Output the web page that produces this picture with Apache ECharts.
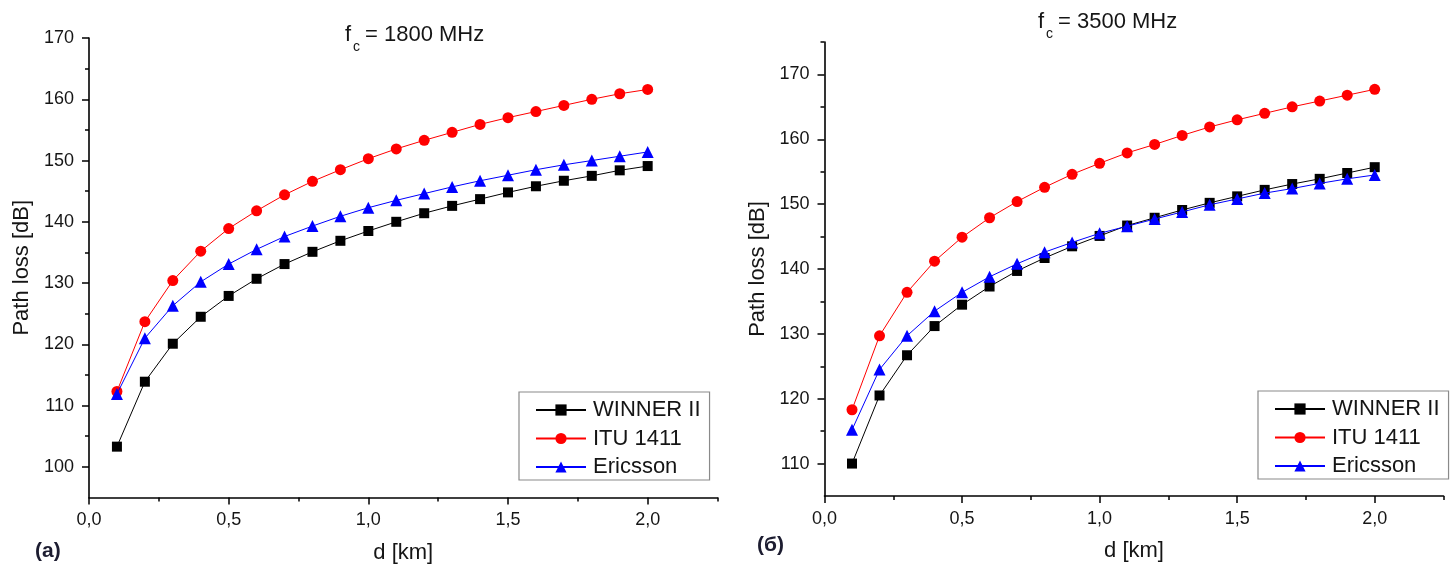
<!DOCTYPE html>
<html>
<head>
<meta charset="utf-8">
<script src="https://cdn.jsdelivr.net/npm/echarts@6/dist/echarts.min.js"></script>
<style>
  html, body { margin: 0; padding: 0; background: #fff; }
  #chart { width: 1456px; height: 569px; }
</style>
</head>
<body>
<div id="chart"></div>
<script>
// Distance from the base station, km
const distances = [0.1, 0.2, 0.3, 0.4, 0.5, 0.6, 0.7, 0.8, 0.9, 1.0,
                   1.1, 1.2, 1.3, 1.4, 1.5, 1.6, 1.7, 1.8, 1.9, 2.0];

const seriesNames = ['WINNER II', 'ITU 1411', 'Ericsson'];

// Path loss at fc = 1800 MHz, dB
const winner1800   = [103.3, 113.9, 120.1, 124.5, 127.9, 130.7, 133.1, 135.1, 136.9, 138.5,
                      140.0, 141.4, 142.6, 143.7, 144.8, 145.8, 146.7, 147.5, 148.4, 149.1];
const itu1800      = [112.3, 123.7, 130.4, 135.2, 138.9, 141.8, 144.4, 146.6, 148.5, 150.3,
                      151.9, 153.3, 154.6, 155.9, 157.0, 158.0, 159.0, 160.0, 160.9, 161.6];
const ericsson1800 = [111.9, 121.0, 126.3, 130.2, 133.1, 135.5, 137.6, 139.3, 140.9, 142.3,
                      143.5, 144.6, 145.7, 146.7, 147.6, 148.5, 149.3, 150.0, 150.7, 151.4];

// Path loss at fc = 3500 MHz, dB
const winner3500   = [110.0, 120.5, 126.7, 131.2, 134.5, 137.3, 139.7, 141.7, 143.5, 145.1,
                      146.7, 147.9, 149.1, 150.2, 151.2, 152.2, 153.1, 153.9, 154.8, 155.7];
const itu3500      = [118.3, 129.7, 136.4, 141.2, 144.9, 147.9, 150.4, 152.6, 154.6, 156.3,
                      157.9, 159.2, 160.6, 161.9, 163.0, 164.0, 165.0, 165.9, 166.8, 167.7];
const ericsson3500 = [115.2, 124.5, 129.7, 133.5, 136.4, 138.8, 140.8, 142.6, 144.1, 145.5,
                      146.6, 147.7, 148.8, 149.9, 150.8, 151.7, 152.4, 153.2, 153.9, 154.5];

// Axis ticks
const xMajorTicks = [0, 0.5, 1.0, 1.5, 2.0];
const xMinorTicks = [0.25, 0.75, 1.25, 1.75, 2.25];
const yMajorTicks1800 = [100, 110, 120, 130, 140, 150, 160, 170];
const yMinorTicks1800 = [105, 115, 125, 135, 145, 155, 165];
const yMajorTicks3500 = [110, 120, 130, 140, 150, 160, 170];
const yMinorTicks3500 = [115, 125, 135, 145, 155, 165, 175];

const FONT = '"Liberation Sans", Arial, sans-serif';
const INK = '#151515';

const colors = ['#000000', '#ff0000', '#0000ff'];
const symbols = ['rect', 'circle', 'triangle'];
const symbolSizes = [10, 11, 12];

function pairs(values) {
  return distances.map((d, i) => [d, values[i]]);
}

function xAxes(gridIndex, min, max) {
  return [
    {
      type: 'value', gridIndex, min, max, position: 'bottom',
      name: 'd [km]', nameLocation: 'middle', nameGap: 44,
      nameTextStyle: { fontFamily: FONT, fontSize: 22, color: INK },
      axisLine: { show: true, onZero: false, lineStyle: { color: '#000', width: 1.6 } },
      axisTick: { show: true, length: 7, lineStyle: { color: '#000', width: 1.5 }, customValues: xMajorTicks },
      axisLabel: {
        show: true, margin: 14, fontFamily: FONT, fontSize: 18, color: INK,
        customValues: xMajorTicks,
        formatter: v => v.toFixed(1).replace('.', ',')
      },
      splitLine: { show: false }
    },
    {
      type: 'value', gridIndex, min, max, position: 'bottom', offset: 0,
      axisLine: { show: false, onZero: false },
      axisTick: { show: true, length: 4, lineStyle: { color: '#000', width: 1.5 }, customValues: xMinorTicks },
      axisLabel: { show: false },
      splitLine: { show: false }
    }
  ];
}

function yAxes(gridIndex, min, max, major, minor, nameGap) {
  return [
    {
      type: 'value', gridIndex, min, max, position: 'left',
      name: 'Path loss [dB]', nameLocation: 'middle', nameGap,
      nameTextStyle: { fontFamily: FONT, fontSize: 22, color: INK },
      axisLine: { show: true, onZero: false, lineStyle: { color: '#000', width: 1.6 } },
      axisTick: { show: true, length: 7, lineStyle: { color: '#000', width: 1.5 }, customValues: major },
      axisLabel: { show: true, margin: 15, fontFamily: FONT, fontSize: 18, color: INK, customValues: major },
      splitLine: { show: false }
    },
    {
      type: 'value', gridIndex, min, max, position: 'left', offset: 0,
      axisLine: { show: false, onZero: false },
      axisTick: { show: true, length: 4, lineStyle: { color: '#000', width: 1.5 }, customValues: minor },
      axisLabel: { show: false },
      splitLine: { show: false }
    }
  ];
}

function lineSeries(name, idx, values, axisIndex) {
  return {
    type: 'line', name,
    xAxisIndex: axisIndex, yAxisIndex: axisIndex,
    data: pairs(values),
    symbol: symbols[idx], symbolSize: symbolSizes[idx],
    showAllSymbol: true,
    itemStyle: { color: colors[idx] },
    lineStyle: { color: colors[idx], width: 1 },
    emphasis: { disabled: true },
    z: 2 + idx
  };
}

function legendAt(left, top) {
  return {
    left, top, orient: 'vertical',
    data: seriesNames,
    itemWidth: 50, itemHeight: 14, itemGap: 6.5,
    padding: [7, 9, 2, 16],
    borderColor: '#8a8a8a', borderWidth: 1.2,
    selectedMode: false,
    textStyle: { fontFamily: FONT, fontSize: 22, color: INK, lineHeight: 22, padding: [0, 0, 0, 2] }
  };
}

function titleTexts(x, y, freq) {
  return [
    { type: 'text', x, y, style: { text: 'f', font: '22px ' + FONT, fill: INK, textVerticalAlign: 'middle' } },
    { type: 'text', x: x + 8, y: y + 12, style: { text: 'c', font: '14px ' + FONT, fill: INK, textVerticalAlign: 'middle' } },
    { type: 'text', x: x + 20, y, style: { text: '= ' + freq + ' MHz', font: '22px ' + FONT, fill: INK, textVerticalAlign: 'middle' } }
  ];
}

const chart = echarts.init(document.getElementById('chart'), null, { renderer: 'canvas' });

chart.setOption({
  animation: false,
  backgroundColor: '#ffffff',
  grid: [
    { left: 89, top: 38, width: 628.5, height: 459.5 },
    { left: 824.5, top: 42, width: 619, height: 454 }
  ],
  xAxis: [...xAxes(0, 0, 2.25), ...xAxes(1, 0, 2.25)],
  yAxis: [
    ...yAxes(0, 95, 170, yMajorTicks1800, yMinorTicks1800, 56),
    ...yAxes(1, 105, 175, yMajorTicks3500, yMinorTicks3500, 56)
  ],
  legend: [legendAt(519, 392), legendAt(1258, 391)],
  series: [
    lineSeries(seriesNames[0], 0, winner1800, 0),
    lineSeries(seriesNames[1], 1, itu1800, 0),
    lineSeries(seriesNames[2], 2, ericsson1800, 0),
    lineSeries(seriesNames[0], 0, winner3500, 2),
    lineSeries(seriesNames[1], 1, itu3500, 2),
    lineSeries(seriesNames[2], 2, ericsson3500, 2)
  ],
  graphic: [
    ...titleTexts(345, 35, '1800'),
    ...titleTexts(1038, 22, '3500'),
    { type: 'text', x: 35, y: 551, style: { text: '(a)', font: 'bold 21px ' + FONT, fill: '#1c1c30', textVerticalAlign: 'middle' } },
    { type: 'text', x: 757, y: 545, style: { text: '(б)', font: 'bold 21px ' + FONT, fill: '#1c1c30', textVerticalAlign: 'middle' } }
  ]
});
</script>
</body>
</html>
